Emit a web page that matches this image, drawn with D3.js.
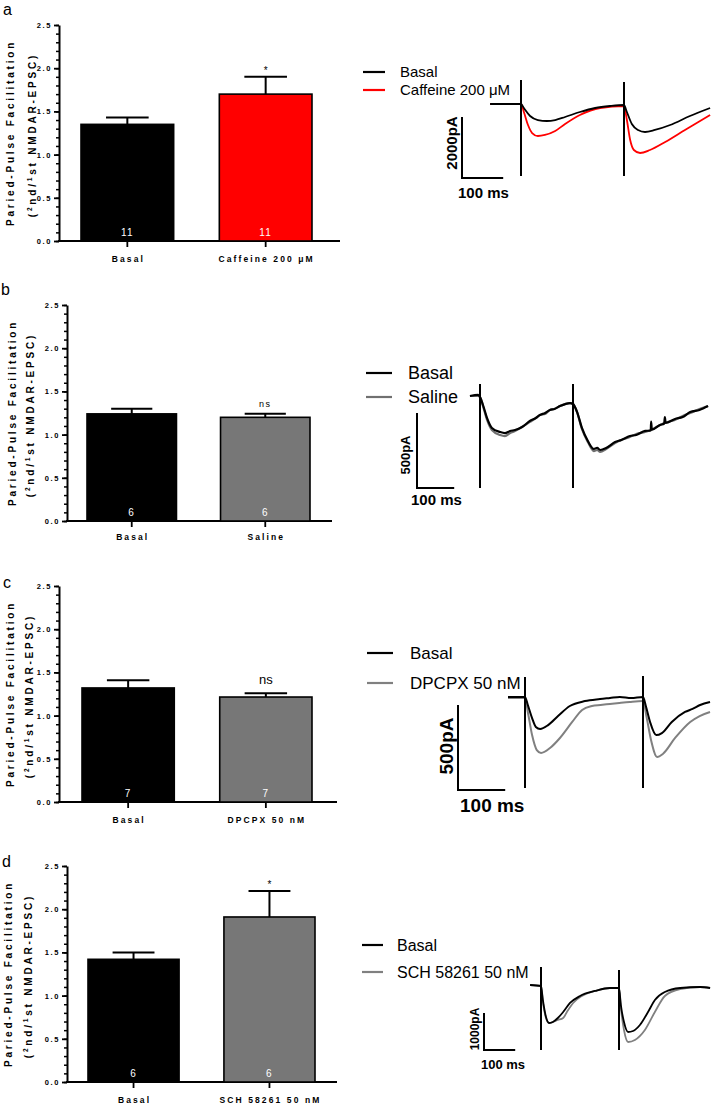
<!DOCTYPE html>
<html><head><meta charset="utf-8">
<script src="https://cdn.jsdelivr.net/npm/d3@7"></script>
<style>body{margin:0;background:#fff} svg{display:block} text{font-family:"Liberation Sans",Arial,Helvetica,sans-serif}</style>
</head><body><svg id="fig" width="713" height="1105"></svg>
<script>
// ---------------- DATA ----------------
const yTickValues = [0, 0.5, 1.0, 1.5, 2.0, 2.5];
const yMinorStep = 0.1;
const yMax = 2.5;

const catsA = ["Basal", "Caffeine 200 \u03bcM"];
const ppfA = [1.35, 1.70];
const semA = [0.08, 0.20];
const nA = [11, 11];
const sigA = ["", "*"];

const catsB = ["Basal", "Saline"];
const ppfB = [1.24, 1.20];
const semB = [0.06, 0.04];
const nB = [6, 6];
const sigB = ["", "ns"];

const catsC = ["Basal", "DPCPX 50 nM"];
const ppfC = [1.32, 1.215];
const semC = [0.09, 0.045];
const nC = [7, 7];
const sigC = ["", "ns"];

const catsD = ["Basal", "SCH 58261 50 nM"];
const ppfD = [1.42, 1.91];
const semD = [0.08, 0.30];
const nD = [6, 6];
const sigD = ["", "*"];

// traces: [time ms, current pA relative to baseline]
const stimTimes = [0, 250];
const scaleBarMs = 100;

const traceA_basal = [[-75,0],[0,0],[7,-131],[22,-393],[41,-525],[63,-557],[83,-525],[107,-426],[143,-262],[180,-131],[216,-66],[250,-33],[257,-262],[269,-656],[284,-852],[301,-918],[325,-852],[362,-689],[410,-393],[459,-131]];
const traceA_caff = [[-75,0],[0,0],[7,-262],[17,-689],[27,-951],[41,-1049],[58,-1016],[83,-885],[107,-656],[143,-361],[192,-131],[250,-66],[257,-525],[265,-1180],[274,-1508],[289,-1607],[313,-1508],[350,-1246],[398,-852],[459,-361]];
const stimTopA = [790, 720];
const stimBottomA = [-2360, -2360];
const scaleBarPA_A = 2000;

const traceB_basal = [[-27,0],[-5,7],[0,-7],[8,-60],[19,-147],[32,-213],[54,-240],[67,-247],[81,-233],[94,-227],[113,-207],[134,-167],[150,-147],[161,-127],[175,-113],[188,-93],[200,-87],[215,-67],[242,-47],[250,-53],[261,-107],[274,-213],[290,-300],[306,-353],[315,-345],[323,-360],[339,-347],[363,-307],[380,-293],[403,-267],[420,-260],[444,-233],[459,-230],[460,-170],[462,-225],[484,-193],[495,-185],[497,-140],[499,-180],[524,-153],[545,-140],[565,-107],[590,-93],[613,-67]];
const traceB_saline = [[-27,0],[-5,0],[0,-7],[8,-67],[19,-160],[32,-227],[54,-260],[67,-267],[81,-247],[94,-233],[113,-207],[134,-173],[150,-147],[161,-127],[175,-120],[188,-93],[200,-87],[215,-67],[242,-47],[250,-53],[261,-107],[274,-220],[290,-307],[306,-367],[315,-360],[323,-373],[339,-353],[363,-313],[380,-293],[403,-273],[420,-253],[444,-240],[459,-227],[484,-193],[495,-180],[524,-160],[545,-133],[565,-113],[590,-87],[613,-67]];
const stimTopB = [80, 80];
const stimBottomB = [-613, -613];
const scaleBarPA_B = 500;

const traceC_basal = [[-36,0],[0,0],[6,-47],[15,-124],[23,-176],[32,-188],[49,-165],[70,-112],[95,-53],[127,-24],[159,-12],[180,-6],[201,0],[225,-6],[250,0],[256,-53],[265,-147],[278,-224],[290,-212],[311,-147],[339,-88],[355,-70],[371,-47],[392,-29]];
const traceC_dpcpx = [[-36,-6],[0,-6],[6,-88],[15,-224],[25,-312],[34,-329],[53,-300],[74,-241],[100,-147],[121,-76],[142,-53],[160,-47],[180,-41],[200,-35],[222,-29],[250,-24],[258,-124],[267,-253],[280,-353],[292,-335],[318,-241],[350,-147],[370,-112],[392,-88]];
const stimTopC = [118, 124];
const stimBottomC = [-535, -535];
const scaleBarPA_C = 500;

const traceD_basal = [[-35,0],[0,-27],[6,-405],[16,-865],[26,-1027],[38,-1000],[54,-892],[71,-730],[93,-486],[125,-297],[173,-162],[221,-81],[250,-81],[256,-541],[266,-1000],[279,-1270],[295,-1243],[317,-1081],[343,-730],[365,-405],[397,-189],[446,-81],[510,-54],[542,-81]];
const traceD_sch = [[-35,0],[0,-27],[6,-459],[16,-892],[26,-1027],[38,-1000],[54,-946],[71,-892],[83,-730],[103,-486],[131,-297],[173,-162],[221,-81],[250,-81],[256,-622],[266,-1216],[279,-1540],[301,-1486],[333,-1216],[365,-730],[397,-297],[446,-108],[510,-54],[542,-81]];
const stimTopD = [486, 405];
const stimBottomD = [-1757, -1757];
const scaleBarPA_D = 1000;

// ---------------- DRAW ----------------
const svg = d3.select("#fig");
const FONT = '"Liberation Sans",Arial,sans-serif';

function barPanel(cfg, cats, vals, sems, ns, sigs, colors) {
  const g = svg.append("g");
  const y = d3.scaleLinear().domain([0, yMax]).range([cfg.y0, cfg.yTop]);
  const x = d3.scaleBand().domain(cats).range([cfg.barL, cfg.barR]).paddingInner(0.33).paddingOuter(0);
  const bw = x.bandwidth();

  g.append("text").attr("x", cfg.lx).attr("y", cfg.ly).attr("font-size", 16).text(cfg.letter);

  const minor = d3.range(0, yMax + 1e-9, yMinorStep);
  g.append("g").attr("transform", `translate(${cfg.axisX},0)`)
    .call(d3.axisLeft(y).tickValues(minor).tickSize(3).tickSizeOuter(0).tickFormat(""))
    .call(s => s.select(".domain").remove())
    .call(s => s.selectAll("line").attr("stroke-width", 1.5));
  const ya = g.append("g").attr("transform", `translate(${cfg.axisX},0)`)
    .call(d3.axisLeft(y).tickValues(yTickValues).tickSize(5).tickSizeOuter(0).tickPadding(2).tickFormat(d3.format(".1f")));
  ya.select(".domain").attr("stroke-width", 2);
  ya.selectAll("line").attr("stroke-width", 1.8);
  ya.selectAll("text").attr("font-family", FONT).attr("font-size", 7.5).attr("font-weight", "bold").attr("letter-spacing", 1.6);

  g.append("line").attr("x1", cfg.axisX - 1).attr("x2", cfg.xEnd).attr("y1", y(0)).attr("y2", y(0))
    .attr("stroke", "#000").attr("stroke-width", 2);
  const xa = g.append("g").attr("transform", `translate(0,${y(0)})`)
    .call(d3.axisBottom(x).tickSize(6).tickSizeOuter(0).tickFormat(""));
  xa.select(".domain").remove();
  xa.selectAll("line").attr("stroke-width", 1.8);

  g.selectAll("rect.bar").data(cats).join("rect").attr("class", "bar")
    .attr("x", d => x(d)).attr("width", bw)
    .attr("y", (d, i) => y(vals[i])).attr("height", (d, i) => y(0) - y(vals[i]))
    .attr("fill", (d, i) => colors[i]).attr("stroke", "#000").attr("stroke-width", 1.6);

  const capW = bw * 0.46;
  cats.forEach((c, i) => {
    const cx = x(c) + bw / 2;
    const top = y(vals[i] + sems[i]);
    g.append("line").attr("x1", cx).attr("x2", cx).attr("y1", y(vals[i])).attr("y2", top).attr("stroke", "#000").attr("stroke-width", 2);
    g.append("line").attr("x1", cx - capW / 2).attr("x2", cx + capW / 2).attr("y1", top).attr("y2", top).attr("stroke", "#000").attr("stroke-width", 2);
    if (sigs[i]) {
      const big = cfg.sigBig && sigs[i] === "ns";
      g.append("text").attr("x", cx).attr("y", top - (sigs[i] === "*" ? 3 : (big ? 9 : 7)))
        .attr("text-anchor", "middle")
        .attr("font-size", sigs[i] === "*" ? 10 : (big ? 13 : 9))
        .attr("letter-spacing", big ? 0 : (sigs[i] === "ns" ? 1.5 : 0))
        .text(sigs[i]);
    }
    g.append("text").attr("x", cx).attr("y", y(0) - 5).attr("text-anchor", "middle")
      .attr("font-size", 10).attr("fill", "#fff").attr("letter-spacing", 1.2).text(ns[i]);
    g.append("text").attr("x", cx + 1).attr("y", cfg.catY).attr("text-anchor", "middle")
      .attr("font-size", 8.5).attr("font-weight", "bold").attr("letter-spacing", 2.1).text(c);
  });

  const ymid = (cfg.y0 + cfg.yTop) / 2;
  g.append("text").attr("transform", `translate(${cfg.t1x},${ymid}) rotate(-90)`)
    .attr("text-anchor", "middle").attr("dy", "0.35em").attr("font-size", 10).attr("font-weight", "bold").attr("letter-spacing", 2.8)
    .text("Paried-Pulse Facilitation");
  const t2 = g.append("text").attr("transform", `translate(${cfg.t2x},${ymid + 2}) rotate(-90)`)
    .attr("text-anchor", "middle").attr("y", 3.5).attr("font-size", 10).attr("font-weight", "bold").attr("letter-spacing", 2.8);
  t2.append("tspan").text("(");
  t2.append("tspan").attr("font-size", 6.5).attr("dy", -4).text("2");
  t2.append("tspan").attr("dy", 4).text("nd/");
  t2.append("tspan").attr("font-size", 6.5).attr("dy", -4).text("1");
  t2.append("tspan").attr("dy", 4).text("st NMDAR-EPSC)");
}

function tracePanel(cfg, traces, colors, widths, labels, stimTop, stimBottom, barPA) {
  const g = svg.append("g");
  const x = d3.scaleLinear().domain([stimTimes[0], stimTimes[1]]).range([cfg.s1x, cfg.s2x]);
  const y = d3.scaleLinear().domain([0, -barPA]).range([cfg.baseY, cfg.baseY + cfg.barPx]);
  const line = d3.line().x(d => x(d[0])).y(d => y(d[1])).curve(d3.curveMonotoneX);

  for (let k = traces.length - 1; k >= 0; k--) {
    g.append("path").attr("d", line(traces[k])).attr("fill", "none")
      .attr("stroke", colors[k]).attr("stroke-width", widths[k]).attr("stroke-linejoin", "round");
  }
  stimTimes.forEach((t, i) => {
    g.append("line").attr("x1", x(t)).attr("x2", x(t)).attr("y1", y(stimTop[i])).attr("y2", y(stimBottom[i]))
      .attr("stroke", "#000").attr("stroke-width", 2);
  });
  const hLen = x(scaleBarMs) - x(0);
  const vLen = y(-barPA) - y(0);
  g.append("path").attr("d", `M${cfg.sbx},${cfg.sby - vLen}V${cfg.sby}H${cfg.sbx + hLen}`)
    .attr("fill", "none").attr("stroke", "#000").attr("stroke-width", 2);
  g.append("text").attr("transform", `translate(${cfg.paX},${cfg.paY}) rotate(-90)`)
    .attr("text-anchor", "middle").attr("dy", "0.35em").attr("font-size", cfg.paSize).attr("font-weight", "bold")
    .text(barPA + "pA");
  g.append("text").attr("x", cfg.msX).attr("y", cfg.msY).attr("font-size", cfg.msSize).attr("font-weight", "bold")
    .text(scaleBarMs + " ms");

  labels.forEach((lab, i) => {
    const ly = cfg.legY[i];
    g.append("line").attr("x1", cfg.legX1).attr("x2", cfg.legX2).attr("y1", ly).attr("y2", ly)
      .attr("stroke", colors[i]).attr("stroke-width", 2.2);
    g.append("text").attr("x", cfg.legTX).attr("y", ly + cfg.legFont * 0.36).attr("font-size", cfg.legFont).text(lab);
  });
}

// ---- Panel a
barPanel({letter: "a", lx: 3, ly: 15, axisX: 59, y0: 241, yTop: 25, xEnd: 340, barL: 81, barR: 312, catY: 262, t1x: 10.5, t2x: 32},
  catsA, ppfA, semA, nA, sigA, ["#000000", "#ff0000"]);
tracePanel({s1x: 521, s2x: 624, baseY: 104, barPx: 61, sbx: 462, sby: 178, paX: 452, paY: 143, paSize: 15, msX: 458, msY: 198, msSize: 15,
  legX1: 363, legX2: 385, legY: [72, 90], legTX: 400, legFont: 15},
  [traceA_basal, traceA_caff], ["#000000", "#ff0000"], [1.8, 1.8], ["Basal", "Caffeine 200 \u03bcM"], stimTopA, stimBottomA, scaleBarPA_A);

// ---- Panel b
barPanel({letter: "b", lx: 1, ly: 295, axisX: 67, y0: 521, yTop: 305, xEnd: 332, barL: 87, barR: 310, catY: 540, t1x: 12, t2x: 30},
  catsB, ppfB, semB, nB, sigB, ["#000000", "#777777"]);
tracePanel({s1x: 480, s2x: 573, baseY: 396, barPx: 75, sbx: 417, sby: 488, paX: 405, paY: 455, paSize: 13, msX: 411, msY: 505, msSize: 15,
  legX1: 366, legX2: 392, legY: [373, 397], legTX: 408, legFont: 18},
  [traceB_basal, traceB_saline], ["#000000", "#707070"], [2.2, 2.2], ["Basal", "Saline"], stimTopB, stimBottomB, scaleBarPA_B);

// ---- Panel c
barPanel({letter: "c", lx: 3, ly: 588, axisX: 59, y0: 802, yTop: 586, xEnd: 337, barL: 82, barR: 312, catY: 823, t1x: 10, t2x: 29, sigBig: true},
  catsC, ppfC, semC, nC, sigC, ["#000000", "#777777"]);
tracePanel({s1x: 525, s2x: 643, baseY: 697, barPx: 85, sbx: 458, sby: 790, paX: 446, paY: 746, paSize: 19, msX: 460, msY: 812, msSize: 19,
  legX1: 367, legX2: 393, legY: [653, 683], legTX: 410, legFont: 17},
  [traceC_basal, traceC_dpcpx], ["#000000", "#808080"], [2, 2], ["Basal", "DPCPX 50 nM"], stimTopC, stimBottomC, scaleBarPA_C);

// ---- Panel d
barPanel({letter: "d", lx: 2, ly: 867, axisX: 67, y0: 1082, yTop: 866, xEnd: 337, barL: 88, barR: 315, catY: 1103, t1x: 8, t2x: 28},
  catsD, ppfD, semD, nD, sigD, ["#000000", "#777777"]);
tracePanel({s1x: 541, s2x: 619, baseY: 985, barPx: 37, sbx: 484, sby: 1050, paX: 475, paY: 1029, paSize: 12, msX: 481, msY: 1069, msSize: 13,
  legX1: 362, legX2: 383, legY: [945, 972], legTX: 397, legFont: 16},
  [traceD_basal, traceD_sch], ["#000000", "#808080"], [1.8, 1.8], ["Basal", "SCH 58261 50 nM"], stimTopD, stimBottomD, scaleBarPA_D);
</script></body></html>
